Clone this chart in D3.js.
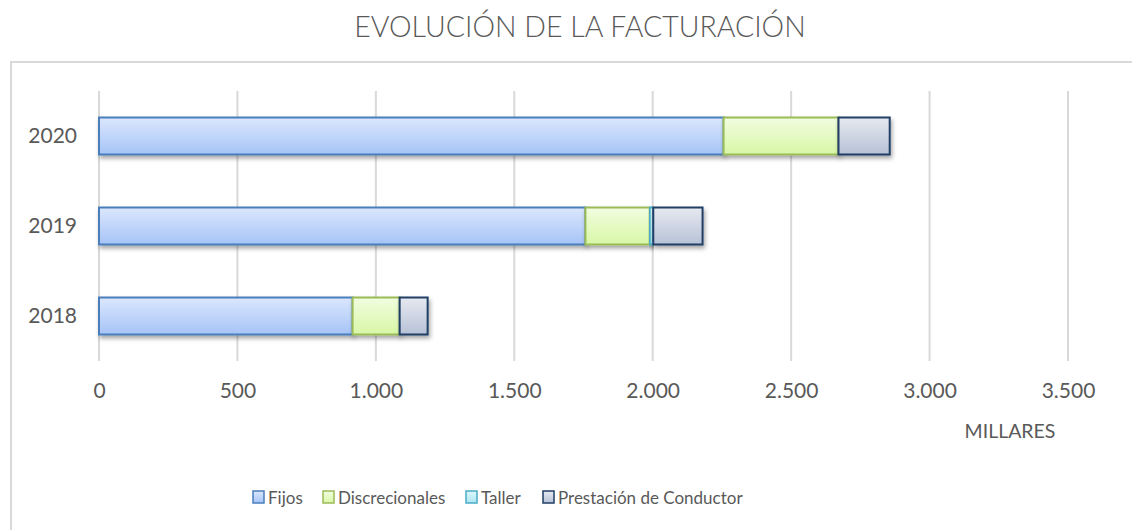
<!DOCTYPE html>
<html>
<head>
<meta charset="utf-8">
<script src="https://cdn.jsdelivr.net/npm/d3@7"></script>
<style>
  body { margin: 0; background: #fff; }
  svg { display: block; font-family: Lato, "Open Sans", sans-serif; }
</style>
</head>
<body>
<div id="chartWrapper"></div>
<script>
// data (miles de euros)
var years = ["2018", "2019", "2020"];
var seriesNames = ["Fijos", "Discrecionales", "Taller", "Prestación de Conductor"];
var fijos = [916, 1757, 2256];
var discrecionales = [170, 232, 415];
var taller = [0, 13, 0];
var prestacion = [101, 178, 185];
var xTicks = [0, 500, 1000, 1500, 2000, 2500, 3000, 3500];

var w = 1132, h = 530;
var margin = { top: 91, bottom: 169, left: 99, right: 64 };
var width = w - margin.left - margin.right;
var height = h - margin.top - margin.bottom;

var styles = [
    { top: "#dbe7fd", bottom: "#a6c4f7", stroke: "#4a7ebb" },
    { top: "#f1fde0", bottom: "#d8f7a6", stroke: "#9bbb59" },
    { top: "#dff7fc", bottom: "#a9e6f3", stroke: "#4bacc6" },
    { top: "#e6e9f0", bottom: "#b7c2d7", stroke: "#213f66" }
];

var svg = d3.select("#chartWrapper").append("svg")
    .attr("width", w)
    .attr("height", h);

var defs = svg.append("defs");
styles.forEach(function(s, i){
    var g = defs.append("linearGradient")
        .attr("id", "grad" + i)
        .attr("x1", 0).attr("y1", 0)
        .attr("x2", 0).attr("y2", 1);
    g.append("stop").attr("offset", "0%").attr("stop-color", s.top);
    g.append("stop").attr("offset", "100%").attr("stop-color", s.bottom);
});
var shadow = defs.append("filter").attr("id", "shadow")
    .attr("x", "-5%").attr("y", "-20%").attr("width", "115%").attr("height", "160%");
shadow.append("feDropShadow")
    .attr("dx", 1.5).attr("dy", 3).attr("stdDeviation", 2)
    .attr("flood-color", "#000").attr("flood-opacity", 0.35);

// outer chart frame
svg.append("rect")
    .attr("x", 11).attr("y", 62)
    .attr("width", 1130).attr("height", 480)
    .attr("fill", "none")
    .attr("stroke", "#d9d9d9")
    .attr("stroke-width", 2);

// title
svg.append("text")
    .attr("x", 580).attr("y", 37)
    .attr("text-anchor", "middle")
    .style("font-size", "28.5px")
    .style("font-weight", 300)
    .style("fill", "#595959")
    .text("EVOLUCIÓN DE LA FACTURACIÓN");

var chart = svg.append("g")
    .attr("transform", "translate(" + margin.left + "," + margin.top + ")");

var locale = d3.formatLocale({ decimal: ",", thousands: ".", grouping: [3], currency: ["", "€"] });

var x = d3.scaleLinear()
    .domain([0, 3500])
    .range([0, 969]);
var y = d3.scaleBand()
    .domain(years.slice().reverse())
    .range([0, height])
    .paddingInner(0.589)
    .paddingOuter(0.2945);

// grid
chart.selectAll(".grid")
    .data(xTicks)
    .enter().append("line")
    .attr("class", "grid")
    .attr("x1", function(d){ return x(d); })
    .attr("x2", function(d){ return x(d); })
    .attr("y1", 0)
    .attr("y2", height)
    .attr("stroke", "#d9d9d9")
    .attr("stroke-width", 2);

var xAxis = d3.axisBottom(x)
    .tickValues(xTicks)
    .tickSize(0)
    .tickPadding(22)
    .tickFormat(locale.format(",d"));
var xg = chart.append("g")
    .attr("transform", "translate(0," + height + ")")
    .call(xAxis);
xg.select(".domain").remove();
xg.selectAll("text")
    .style("font-size", "21px")
    .style("fill", "#595959")
    .style("font-family", "Lato, 'Open Sans', sans-serif");

var yAxis = d3.axisLeft(y).tickSize(0).tickPadding(22);
var yg = chart.append("g").call(yAxis);
yg.select(".domain").remove();
yg.selectAll("text")
    .style("font-size", "21px")
    .style("fill", "#595959")
    .style("font-family", "Lato, 'Open Sans', sans-serif");

// axis unit
svg.append("text")
    .attr("x", 1010).attr("y", 438)
    .attr("text-anchor", "middle")
    .style("font-size", "19.5px")
    .style("fill", "#595959")
    .text("MILLARES");

// stacked bars
var rows = years.map(function(yr, i){
    return { year: yr, Fijos: fijos[i], Discrecionales: discrecionales[i], Taller: taller[i], "Prestación de Conductor": prestacion[i] };
});
var stacked = d3.stack().keys(seriesNames)(rows);

var layers = chart.selectAll(".layer")
    .data(stacked)
    .enter().append("g")
    .attr("class", "layer")
    .attr("filter", "url(#shadow)");

layers.selectAll("rect")
    .data(function(d, i){ return d.map(function(p){ return { p: p, i: i }; }); })
    .enter().append("rect")
    .filter(function(d){ return d.p[1] - d.p[0] > 0; })
    .attr("x", function(d){ return x(d.p[0]); })
    .attr("y", function(d){ return y(d.p.data.year); })
    .attr("width", function(d){ return x(d.p[1]) - x(d.p[0]); })
    .attr("height", y.bandwidth())
    .attr("fill", function(d){ return "url(#grad" + d.i + ")"; })
    .attr("stroke", function(d){ return styles[d.i].stroke; })
    .attr("stroke-width", 2);

// legend
var legendX = [253, 323, 466, 543];
var legend = svg.selectAll(".legend")
    .data(seriesNames)
    .enter().append("g")
    .attr("class", "legend")
    .attr("transform", function(d, i){ return "translate(" + legendX[i] + ",491)"; });
legend.append("rect")
    .attr("width", 11).attr("height", 12)
    .attr("fill", function(d, i){ return "url(#grad" + i + ")"; })
    .attr("stroke", function(d, i){ return styles[i].stroke; })
    .attr("stroke-width", 1.5);
legend.append("text")
    .attr("x", 15).attr("y", 13)
    .style("font-size", "17px")
    .style("fill", "#595959")
    .text(function(d){ return d; });
</script>
</body>
</html>
